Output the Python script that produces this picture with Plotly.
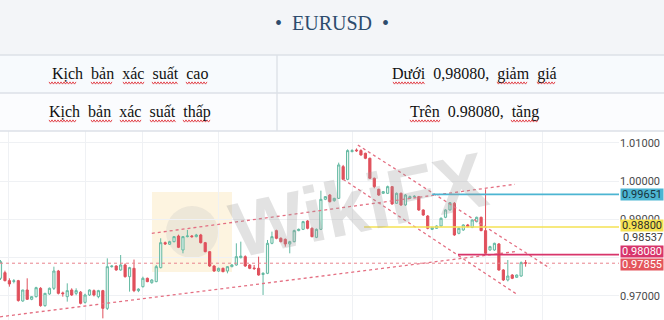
import plotly.graph_objects as go

W, H = 664, 320

# ---------------- data ----------------
title_text = "EURUSD"
row_labels = ["Kịch bản xác suất cao", "Kịch bản xác suất thấp"]
row_values = ["Dưới 0,98080, giảm giá", "Trên 0.98080, tăng"]

opens = [0.97461,0.97608,0.97400,0.97380,0.97400,0.96869,0.97156,0.96913,0.96982,0.97200,
         0.96747,0.97052,0.97200,0.97652,0.97080,0.96982,0.97156,0.97069,0.97100,0.96834,
         0.97026,0.97139,0.96982,0.97139,0.96677,0.97765,0.97782,0.97678,0.97809,0.97504,
         0.97721,0.97139,0.97243,0.97461,0.97347,0.97374,0.97739,0.98391,0.98350,0.98417,
         0.98565,0.98200,0.98548,0.98565,0.98548,0.98592,0.98391,0.98156,0.97782,0.97652,
         0.97721,0.97652,0.97765,0.97809,0.98000,0.98026,0.97809,0.97730,0.97721,0.97560,
         0.97591,0.98374,0.98705,0.98505,0.98478,0.98357,0.98417,0.98705,0.98739,0.98957,
         0.98766,0.98531,0.98739,0.99522,0.99635,0.99487,0.99548,1.00375,1.00044,1.00767,
         1.00810,1.00793,1.00723,1.00593,1.00071,0.99783,0.99679,0.99679,0.99853,0.99418,
         0.99679,0.99375,0.99548,0.99592,0.99592,0.99244,0.99087,0.98739,0.98766,0.98826,
         0.99053,0.99244,0.99418,0.98635,0.98722,0.98853,0.98792,0.98940,0.99053,0.98705,
         0.98200,0.98200,0.98357,0.97678,0.97417,0.97547,0.97487,0.97521,0.97870]
highs = [0.97939,0.97660,0.97461,0.97440,0.97420,0.97160,0.97461,0.96990,0.97240,0.97230,
         0.97080,0.97220,0.97765,0.97680,0.97113,0.97330,0.97200,0.97200,0.97130,0.97060,
         0.97170,0.97170,0.97160,0.97160,0.97982,0.97800,0.97800,0.98069,0.97850,0.97760,
         0.97950,0.97200,0.97504,0.97480,0.97440,0.97809,0.98505,0.98420,0.98440,0.98560,
         0.98600,0.98560,0.98722,0.98590,0.98620,0.98620,0.98410,0.98170,0.97800,0.97740,
         0.97740,0.97780,0.97830,0.98374,0.98417,0.98060,0.97830,0.97809,0.98026,0.97620,
         0.98461,0.98679,0.98730,0.98530,0.98500,0.98440,0.98730,0.98760,0.98960,0.98980,
         0.98790,0.98760,0.99748,0.99600,0.99660,0.99560,1.00479,1.00420,1.00827,1.00830,
         1.00850,1.00830,1.00740,1.00610,1.00090,0.99800,0.99740,0.99880,0.99870,0.99700,
         0.99700,0.99660,0.99620,0.99630,0.99610,0.99260,0.99110,0.98800,0.98840,0.99050,
         0.99260,0.99450,0.99450,0.98790,0.98870,0.98880,0.99000,0.99070,0.99070,0.99783,
         0.98310,0.98390,0.98380,0.97700,0.97939,0.97570,0.97560,0.97900,0.97939]
lows = [0.97417,0.97380,0.97243,0.97330,0.96852,0.96850,0.96895,0.96890,0.96960,0.96720,
        0.96720,0.97030,0.97156,0.97040,0.96982,0.96852,0.97000,0.97020,0.96780,0.96800,
        0.97000,0.96990,0.96940,0.96416,0.96634,0.97740,0.97660,0.97660,0.97480,0.97113,
        0.97100,0.97100,0.97220,0.97360,0.97320,0.97360,0.97720,0.98330,0.98330,0.98400,
        0.98250,0.98113,0.98530,0.98520,0.98530,0.98370,0.98140,0.97760,0.97630,0.97630,
        0.97620,0.97591,0.97750,0.97790,0.97980,0.97760,0.97700,0.97678,0.97530,0.97026,
        0.97570,0.98350,0.98480,0.98400,0.98287,0.98113,0.98400,0.98690,0.98720,0.98740,
        0.98530,0.98510,0.98720,0.99500,0.99440,0.99460,0.99530,1.00020,1.00020,1.00750,
        1.00760,1.00660,1.00570,1.00050,0.99810,0.99610,0.99660,0.99660,0.99380,0.99400,
        0.99350,0.99350,0.99530,0.99560,0.99220,0.99090,0.98740,0.98720,0.98750,0.98810,
        0.99030,0.99230,0.98570,0.98610,0.98700,0.98790,0.98770,0.98920,0.98690,0.98100,
        0.98180,0.98180,0.97660,0.97390,0.97380,0.97440,0.97470,0.97500,0.97765]
closes = [0.97896,0.97400,0.97313,0.97395,0.96880,0.97156,0.96913,0.96982,0.97217,0.96747,
          0.97069,0.97200,0.97652,0.97069,0.97060,0.97139,0.97026,0.97140,0.96808,0.97026,
          0.97156,0.97026,0.97139,0.96677,0.97765,0.97780,0.97678,0.97809,0.97504,0.97739,
          0.97139,0.97180,0.97461,0.97374,0.97417,0.97765,0.98391,0.98360,0.98417,0.98548,
          0.98270,0.98548,0.98565,0.98548,0.98592,0.98391,0.98156,0.97782,0.97652,0.97721,
          0.97634,0.97765,0.97809,0.98026,0.98040,0.97782,0.97721,0.97715,0.97547,0.97591,
          0.98374,0.98548,0.98505,0.98417,0.98357,0.98417,0.98705,0.98739,0.98940,0.98766,
          0.98548,0.98739,0.99522,0.99592,0.99461,0.99548,1.00419,1.00044,1.00793,1.00793,
          1.00790,1.00680,1.00593,1.00071,0.99853,0.99635,0.99722,0.99853,0.99401,0.99679,
          0.99375,0.99635,0.99592,0.99600,0.99244,0.99113,0.98766,0.98792,0.98826,0.99027,
          0.99244,0.99435,0.98592,0.98766,0.98853,0.98809,0.98983,0.99053,0.98705,0.98113,
          0.98287,0.98374,0.97678,0.97417,0.97521,0.97461,0.97547,0.97869,0.97855]
bars = list(range(len(opens)))

# y axis ticks (0.98000 is hidden behind the 0.98080 tag in the source)
tick_vals = [0.97, 0.98, 0.99, 1.00, 1.01]
tick_text = ["0.97000", "", "0.99000", "1.00000", "1.01000"]
# vertical time separators (bar index)
grid_bars = [1.7, 19.0, 32.0, 48.9, 79.0, 97.0, 108.9, 121.7]

# trend lines: (bar0, price0, bar1, price1)
trend_lines = [
    (-0.1, 0.96457, 115.6, 0.98157),
    (34.0, 0.98634, 115.6, 0.99914),
    (80.3, 1.00940, 123.5, 0.97721),
    (77.0, 1.00044, 116.3, 0.97024),
]
# horizontal levels: (price, start bar, colour, label text colour, tag shift)
levels = [
    (0.99651, 97.0, "#4cb5d2", "#17323d", 0),
    (0.98800, 81.7, "#f5e253", "#2b2b2b", 1),
    (0.98080, 102.8, "#d8356b", "#ffffff", 3),
]
last_price = 0.97855
extra_price_label = 0.98537

# ---------------- layout geometry ----------------
def py(pix):
    return 1 - pix / H

def px(pix):
    return pix / W

SP = "\u00a0\u00a0"

# spell-check squiggle spans under the table words (pixel x0, x1, y)
squiggles = [
    (49, 77, 83), (91, 113, 83), (123, 145, 83), (152, 178, 83), (186, 208, 83),
    (393, 425, 83), (497, 528, 83), (537, 556, 83),
    (49, 77, 121), (91, 113, 121), (120, 142, 121), (150, 176, 121), (183, 211, 121),
    (410, 441, 121), (511, 539, 121),
]

def squiggle_path(xa, xb, yy, period=3.0, amp=1.1):
    pts = []
    x = xa
    k = 0
    while x <= xb:
        pts.append((x, yy + (amp if k % 2 else -amp)))
        x += period / 2
        k += 1
    return "M " + " L ".join(f"{px(a):.5f},{py(b):.5f}" for a, b in pts)

chart_top = 131
plot_right = 619
bar_step = 4.45
x0 = -0.5 / bar_step
x1 = x0 + plot_right / bar_step
y_top_price = 1.01305
y_bot_price = 0.96373

fig = go.Figure()

fig.add_trace(go.Candlestick(
    x=bars, open=opens, high=highs, low=lows, close=closes,
    increasing=dict(line=dict(color="#63b9a2", width=1), fillcolor="#eaf6f1"),
    decreasing=dict(line=dict(color="#e0505c", width=1), fillcolor="#e0505c"),
    whiskerwidth=0, showlegend=False, hoverinfo="skip",
))

shapes = []
annotations = []

# header band + table
shapes.append(dict(type="rect", xref="paper", yref="paper", x0=0, x1=1, y0=py(55), y1=1,
                   fillcolor="#f3f5f8", line=dict(width=0), layer="below"))
shapes.append(dict(type="rect", xref="paper", yref="paper", x0=0, x1=1, y0=py(93), y1=py(55),
                   fillcolor="#f7fafd", line=dict(width=0), layer="below"))
shapes.append(dict(type="rect", xref="paper", yref="paper", x0=0, x1=1, y0=py(131), y1=py(93),
                   fillcolor="#fbfcfe", line=dict(width=0), layer="below"))
for yy in (55, 93, 131):
    shapes.append(dict(type="line", xref="paper", yref="paper", x0=0, x1=1, y0=py(yy), y1=py(yy),
                       line=dict(color="#dce1e7", width=1.3)))
shapes.append(dict(type="line", xref="paper", yref="paper", x0=px(277), x1=px(277),
                   y0=py(131), y1=py(55), line=dict(color="#dce1e7", width=1.3)))

annotations.append(dict(xref="paper", yref="paper", x=0.5, y=py(23), xanchor="center",
                        yanchor="middle", showarrow=False,
                        text="•" + SP + title_text + SP + "•",
                        font=dict(family="Liberation Serif", size=20, color="#2d4c6d")))
for i, (lab, val) in enumerate(zip(row_labels, row_values)):
    yc = 74 + 38 * i
    annotations.append(dict(xref="paper", yref="paper", x=px(130), y=py(yc), xanchor="center",
                            yanchor="middle", showarrow=False, text=lab.replace(" ", SP),
                            font=dict(family="Liberation Serif", size=16, color="#111")))
    annotations.append(dict(xref="paper", yref="paper", x=px(474), y=py(yc), xanchor="center",
                            yanchor="middle", showarrow=False, text=val.replace(" ", SP),
                            font=dict(family="Liberation Serif", size=16, color="#111")))
for (a, b, yy) in squiggles:
    shapes.append(dict(type="path", xref="paper", yref="paper", path=squiggle_path(a, b, yy),
                       line=dict(color="#e0343c", width=0.9)))

# watermark
shapes.append(dict(type="rect", xref="paper", yref="paper", x0=px(152), x1=px(232), y0=py(272), y1=py(192),
                   fillcolor="rgba(248,222,160,0.32)", line=dict(width=0), layer="below"))
shapes.append(dict(type="circle", xref="paper", yref="paper", x0=px(166), x1=px(218), y0=py(258), y1=py(206),
                   fillcolor="rgba(190,190,190,0.25)", line=dict(width=0), layer="below"))
annotations.append(dict(xref="paper", yref="paper", x=px(358), y=py(205), xanchor="center",
                        yanchor="middle", showarrow=False,
                        text="<b>WikiFX</b>", textangle=-12,
                        font=dict(family="Liberation Sans", size=78, color="rgba(160,160,160,0.30)")))

# trend lines
for (b0, p0, b1, p1) in trend_lines:
    shapes.append(dict(type="line", xref="x", yref="y", x0=b0, y0=p0, x1=b1, y1=p1,
                       line=dict(color="#e46f82", width=1.3, dash="dot")))
# levels
for (p, b0, col, tcol, sh) in levels:
    shapes.append(dict(type="line", xref="x", yref="y", x0=b0, x1=x1, y0=p, y1=p,
                       line=dict(color=col, width=1.6)))
    annotations.append(dict(xref="paper", yref="y", x=px(620), y=p, xanchor="left", yanchor="middle",
                            showarrow=False, text=f"{p:.5f}", bgcolor=col, borderpad=0,
                            width=42, height=11, yshift=sh,
                            font=dict(family="Roboto", size=11, color=tcol)))
shapes.append(dict(type="line", xref="x", yref="y", x0=x0, x1=x1, y0=last_price, y1=last_price,
                   line=dict(color="#e9838d", width=1, dash="dot")))
annotations.append(dict(xref="paper", yref="y", x=px(620), y=last_price, xanchor="left", yanchor="middle",
                        showarrow=False, text=f"{last_price:.5f}", bgcolor="#e4555c", borderpad=0,
                        width=42, height=11, yshift=-1,
                        font=dict(family="Roboto", size=11, color="#ffffff")))
annotations.append(dict(xref="paper", yref="y", x=px(621), y=extra_price_label, xanchor="left",
                        yanchor="middle", showarrow=False, text=f"{extra_price_label:.5f}",
                        font=dict(family="Roboto", size=11, color="#3a3a3a")))

fig.update_layout(
    width=W, height=H, margin=dict(l=0, r=0, t=0, b=0),
    paper_bgcolor="#ffffff", plot_bgcolor="#ffffff",
    shapes=shapes, annotations=annotations,
    xaxis=dict(domain=[0, px(plot_right)], range=[x0, x1], rangeslider=dict(visible=False),
               tickvals=grid_bars, showticklabels=False, showgrid=True, gridcolor="#eff1f4",
               zeroline=False, showline=False, ticks=""),
    yaxis=dict(domain=[0, py(chart_top)], range=[y_bot_price, y_top_price], side="right",
               tickvals=tick_vals, ticktext=tick_text,
               showgrid=True, gridcolor="#eff1f4", zeroline=False, showline=False, ticks="",
               tickfont=dict(family="Roboto", size=11, color="#4a4a4a")),
)

fig.write_html("out.html")
